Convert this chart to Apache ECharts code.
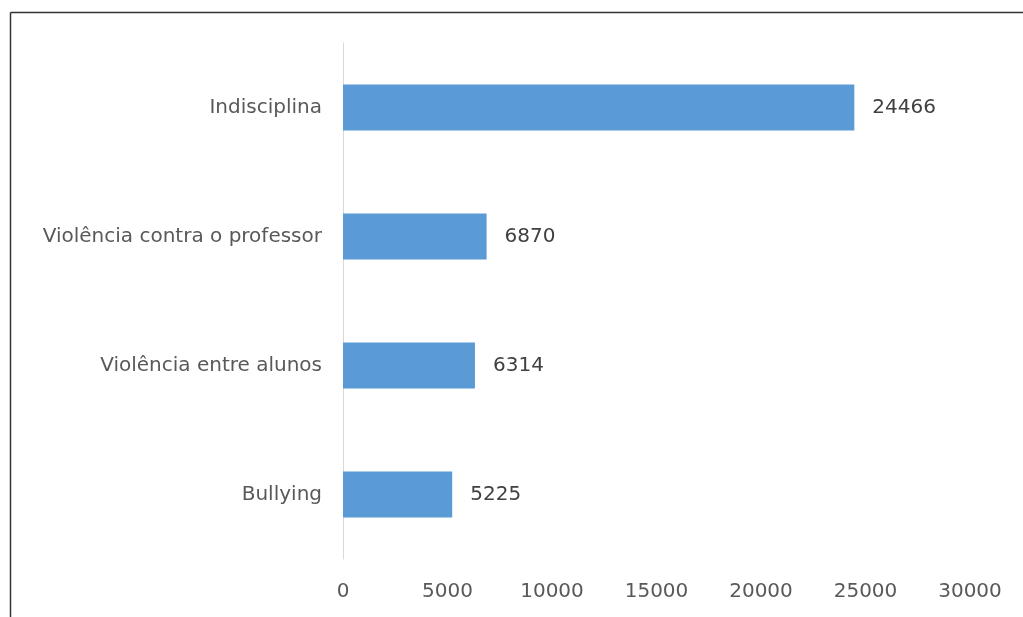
<!DOCTYPE html>
<html><head><meta charset="utf-8">
<script src="https://cdn.jsdelivr.net/npm/echarts@6/dist/echarts.min.js"></script>
<style>html,body{margin:0;padding:0;background:#fff}#c{width:1023px;height:617px}</style>
</head><body><div id="c"></div>
<script>
const categories = ["Bullying", "Violência entre alunos", "Violência contra o professor", "Indisciplina"];
const values = [5225, 6314, 6870, 24466];
const xTicks = [0, 5000, 10000, 15000, 20000, 25000, 30000];

const chart = echarts.init(document.getElementById('c'));
const font = '"DejaVu Sans", sans-serif';
chart.setOption({
  animation: false,
  backgroundColor: '#fff',
  graphic: [
    {type: 'line', shape: {x1: 10.5, y1: 12.5, x2: 1023, y2: 12.5}, style: {stroke: '#333', lineWidth: 1.5}},
    {type: 'line', shape: {x1: 10.5, y1: 12.5, x2: 10.5, y2: 617}, style: {stroke: '#333', lineWidth: 1.5}}
  ],
  grid: {left: 343, right: 53, top: 43, bottom: 58, containLabel: false},
  xAxis: {
    type: 'value', min: xTicks[0], max: xTicks[xTicks.length - 1], interval: 5000,
    axisLine: {show: false}, axisTick: {show: false}, splitLine: {show: false},
    axisLabel: {color: '#595959', fontSize: 20, fontFamily: font, margin: 23, formatter: v => String(v)}
  },
  yAxis: {
    type: 'category', data: categories,
    axisLine: {show: true, lineStyle: {color: '#d9d9d9', width: 1}},
    axisTick: {show: false},
    axisLabel: {color: '#595959', fontSize: 20, fontFamily: font, margin: 21}
  },
  series: [{
    type: 'bar', data: values, barWidth: 46,
    itemStyle: {color: '#5b9bd5'},
    label: {show: true, position: 'right', distance: 18, color: '#404040', fontSize: 20, fontFamily: font}
  }]
});
</script></body></html>
